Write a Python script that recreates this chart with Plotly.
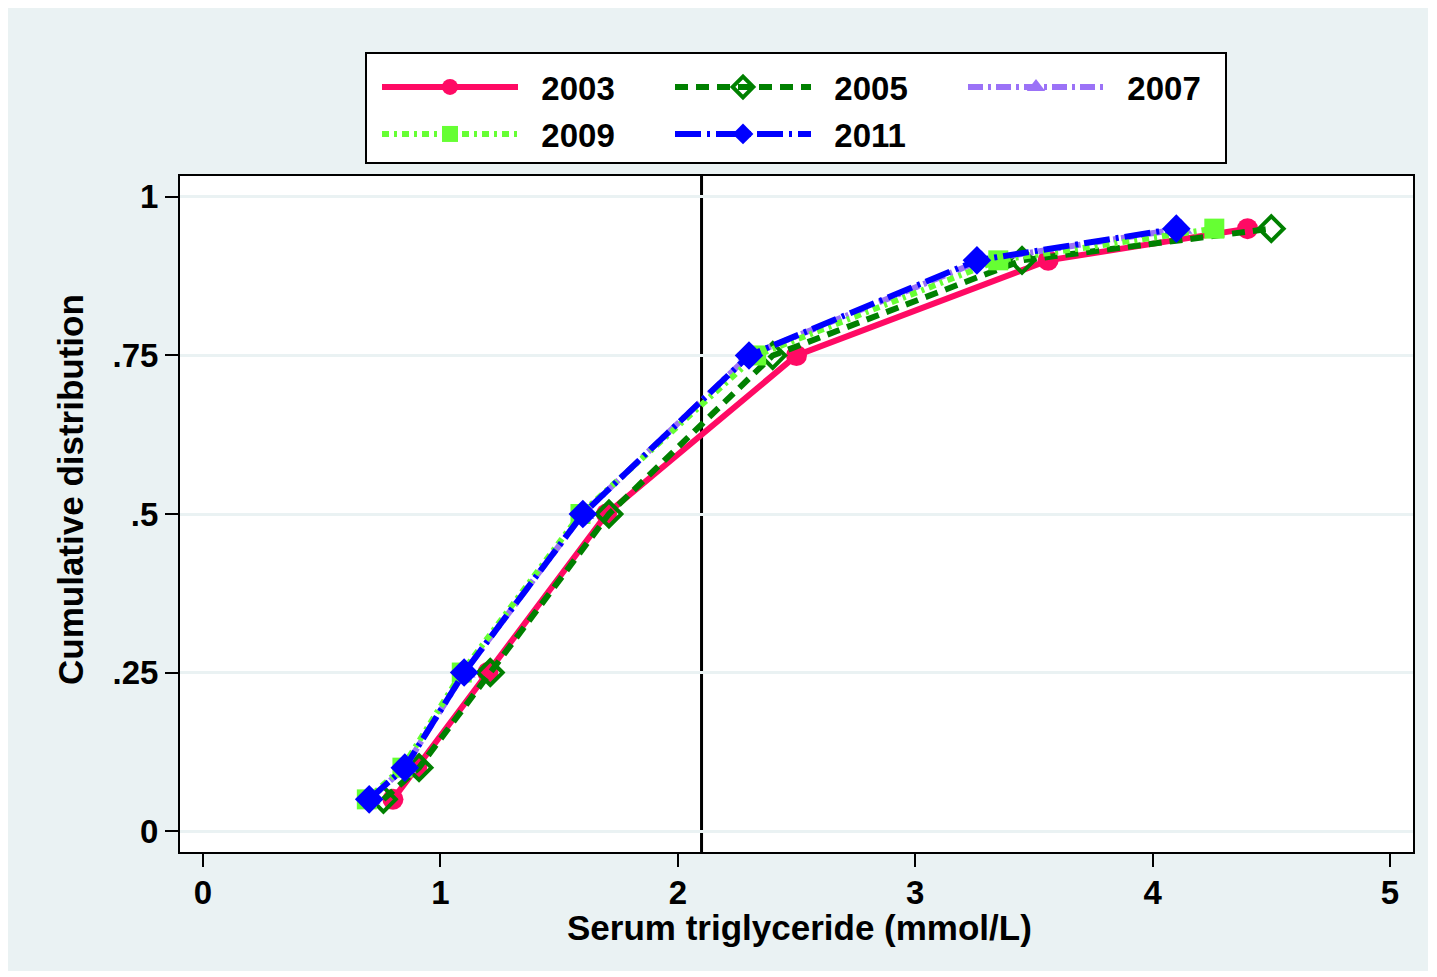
import plotly.graph_objects as go

# ---- data ----
cum_levels = [0.05, 0.10, 0.25, 0.50, 0.75, 0.90, 0.95]
tg_2003 = [0.80, 0.90, 1.20, 1.70, 2.50, 3.56, 4.40]
tg_2005 = [0.76, 0.91, 1.21, 1.71, 2.40, 3.45, 4.50]
tg_2007 = [0.70, 0.85, 1.10, 1.60, 2.30, 3.28, 4.12]
tg_2009 = [0.69, 0.84, 1.09, 1.59, 2.33, 3.35, 4.26]
tg_2011 = [0.70, 0.85, 1.10, 1.60, 2.30, 3.26, 4.10]
years = ["2003", "2005", "2007", "2009", "2011"]
cutoff = 2.1
x_ticks = [0, 1, 2, 3, 4, 5]
y_ticks = [0, 0.25, 0.5, 0.75, 1]
y_ticklabels = ["0", ".25", ".5", ".75", "1"]

FONT = "Liberation Sans, Arial, sans-serif"
BG = "#EAF2F3"

styles = {
    "2003": dict(color="#FF0A64", dash="solid", symbol="circle", size=21, open=False, legend="legend"),
    "2005": dict(color="#008000", dash="13px,8px", symbol="diamond-open", size=19, open=True, legend="legend"),
    "2007": dict(color="#9B72F7", dash="15px,5px,3px,5px", symbol="triangle-up", size=20, open=False, legend="legend"),
    "2009": dict(color="#66FF33", dash="7px,5px,3px,5px", symbol="square", size=20, open=False, legend="legend2"),
    "2011": dict(color="#0000FF", dash="26px,6px,3px,6px", symbol="diamond", size=22, open=False, legend="legend2"),
}
series = {"2003": tg_2003, "2005": tg_2005, "2007": tg_2007, "2009": tg_2009, "2011": tg_2011}

fig = go.Figure()
for yr in years:
    s = styles[yr]
    marker = dict(symbol=s["symbol"], size=s["size"], color=s["color"])
    if s["open"]:
        marker["line"] = dict(color=s["color"], width=4)
    fig.add_trace(go.Scatter(
        x=series[yr], y=cum_levels, name="\u00a0\u00a0" + yr, mode="lines+markers",
        line=dict(color=s["color"], width=6, dash=s["dash"]),
        marker=marker, legend=s["legend"],
    ))

# vertical reference line
fig.add_vline(x=cutoff, line=dict(color="black", width=3), layer="below")

# page offset (body margin) compensation
OFF = 8
W, H = 1420, 963
L, T = 180 - OFF, 176 - OFF
pw, ph = 1233, 676
R = W - L - pw
B = H - T - ph
def px2x(px):
    return (px - OFF - L) / pw
def py2y(py):
    return (T + ph - (py - OFF)) / ph

# legend frame
fig.add_shape(type="rect", xref="paper", yref="paper",
              x0=px2x(366), x1=px2x(1226), y0=py2y(163), y1=py2y(53),
              fillcolor="white", line=dict(color="black", width=2), layer="above")

fig.add_annotation(text="Serum triglyceride (mmol/L)", xref="paper", yref="paper",
                   x=px2x(799), y=py2y(928), xanchor="center", yanchor="middle",
                   showarrow=False, font=dict(family=FONT, size=35, color="black", weight="bold"))
fig.add_annotation(text="Cumulative distribution", xref="paper", yref="paper",
                   x=px2x(70), y=py2y(490), xanchor="center", yanchor="middle", textangle=-90,
                   showarrow=False, font=dict(family=FONT, size=35, color="black", weight="bold"))

leg_common = dict(
    orientation="h", xanchor="left", yanchor="top",
    bgcolor="rgba(0,0,0,0)", borderwidth=0,
    font=dict(family=FONT, size=33, color="black", weight="bold"),
    entrywidth=142, entrywidthmode="pixels", itemwidth=136,
    traceorder="normal", tracegroupgap=0,
)

fig.update_layout(
    width=W, height=H,
    margin=dict(l=L, r=R, t=T, b=B, pad=0, autoexpand=False),
    paper_bgcolor=BG, plot_bgcolor="white",
    font=dict(family=FONT, size=32, color="black", weight="bold"),
    showlegend=True,
    legend=dict(x=px2x(377), y=py2y(59), **leg_common),
    legend2=dict(x=px2x(377), y=py2y(106), **leg_common),
    xaxis=dict(
        range=[-0.097, 5.097], tickvals=x_ticks, ticktext=[str(v) for v in x_ticks],
        showgrid=False, zeroline=False,
        showline=True, mirror=True, linecolor="black", linewidth=2,
        ticks="outside", ticklen=13, tickwidth=2, tickcolor="black",
        ticklabelstandoff=-3,
        tickfont=dict(family=FONT, size=33, weight="bold"),
    ),
    yaxis=dict(
        range=[-0.033, 1.033], tickvals=y_ticks, ticktext=y_ticklabels,
        showgrid=True, gridcolor=BG, gridwidth=3, zeroline=False,
        showline=True, mirror=True, linecolor="black", linewidth=2,
        ticks="outside", ticklen=13, tickwidth=2, tickcolor="black",
        tickfont=dict(family=FONT, size=33, weight="bold"),
    ),
)

fig.write_html("out.html")
